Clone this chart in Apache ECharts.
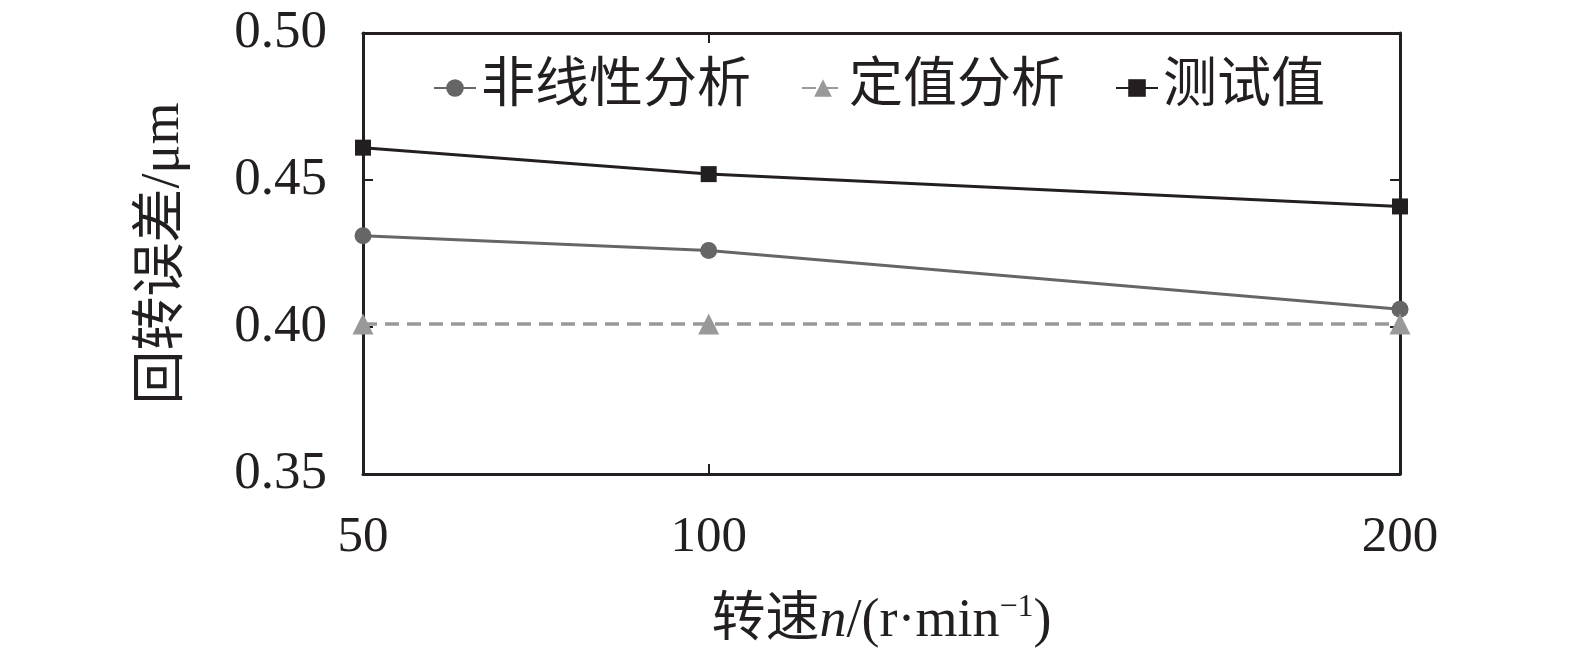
<!DOCTYPE html>
<html><head><meta charset="utf-8">
<script src="https://cdn.jsdelivr.net/npm/echarts@6/dist/echarts.min.js"></script>
<style>html,body{margin:0;padding:0;background:#fff}#c{width:1575px;height:656px}</style>
</head><body><div id="c"></div>
<script>
const speeds = [50, 100, 200];
const nonlinear = [0.431, 0.426, 0.406];
const constant = [0.401, 0.401, 0.401];
const measured = [0.461, 0.452, 0.441];
const xTicks = [50, 100, 200];
const seriesNames = ['非线性分析', '定值分析', '测试值'];

const FONT = '"Liberation Serif", "Times New Roman", "Noto Sans CJK SC", serif';
const pair = (xs, ys) => xs.map((x, i) => [x, ys[i]]);
const chart = echarts.init(document.getElementById('c'));
const axisLine = {show: true, lineStyle: {color: '#231f20', width: 3}};
chart.setOption({
  animation: false,
  grid: {left: 363, right: 175, top: 33, bottom: 182},
  legend: {
    top: 56, left: 428, itemGap: 50, itemWidth: 42, itemHeight: 22,
    textStyle: {fontFamily: FONT, fontSize: 54, color: '#231f20'},
    data: seriesNames
  },
  xAxis: [{
    type: 'value', min: 50, max: 200, position: 'bottom',
    name: '转速{i|n}/(r·min{s|−1})', nameLocation: 'middle', nameGap: 118,
    nameTextStyle: {fontFamily: FONT, fontSize: 54, color: '#231f20',
      rich: {i: {fontStyle: 'italic', fontFamily: FONT, fontSize: 54, color: '#231f20'},
             s: {fontFamily: FONT, fontSize: 32, color: '#231f20', verticalAlign: 'top', padding: [0, 0, 28, 0]}}},
    axisLine: axisLine, splitLine: {show: false},
    axisTick: {show: true, inside: true, length: 10, customValues: xTicks, lineStyle: {color: '#231f20', width: 2}},
    axisLabel: {customValues: xTicks, fontFamily: FONT, fontSize: 51, color: '#231f20', margin: 38}
  }, {
    type: 'value', min: 50, max: 200, position: 'top',
    axisLine: axisLine, splitLine: {show: false},
    axisTick: {show: true, inside: true, length: 10, customValues: xTicks, lineStyle: {color: '#231f20', width: 2}},
    axisLabel: {show: false}
  }],
  yAxis: [{
    type: 'value', min: 0.35, max: 0.50, interval: 0.05, position: 'left',
    name: '回转误差/μm', nameLocation: 'middle', nameGap: 172,
    nameTextStyle: {fontFamily: FONT, fontSize: 54, color: '#231f20'},
    axisLine: axisLine, splitLine: {show: false},
    axisTick: {show: true, inside: true, length: 10, lineStyle: {color: '#231f20', width: 2}},
    axisLabel: {fontFamily: FONT, fontSize: 53, color: '#231f20', margin: 36, formatter: v => v.toFixed(2)}
  }, {
    type: 'value', min: 0.35, max: 0.50, interval: 0.05, position: 'right',
    axisLine: axisLine, splitLine: {show: false},
    axisTick: {show: true, inside: true, length: 10, lineStyle: {color: '#231f20', width: 2}},
    axisLabel: {show: false}
  }],
  series: [{
    name: seriesNames[0], type: 'line', data: pair(speeds, nonlinear),
    symbol: 'circle', symbolSize: 17,
    lineStyle: {color: '#666666', width: 3}, itemStyle: {color: '#666666'}
  }, {
    name: seriesNames[1], type: 'line', data: pair(speeds, constant),
    symbol: 'triangle', symbolSize: 21,
    lineStyle: {color: '#999999', width: 3.5, type: [14, 8]}, itemStyle: {color: '#999999'}
  }, {
    name: seriesNames[2], type: 'line', data: pair(speeds, measured),
    symbol: 'rect', symbolSize: 16,
    lineStyle: {color: '#231f20', width: 3}, itemStyle: {color: '#231f20'}
  }]
});
</script></body></html>
